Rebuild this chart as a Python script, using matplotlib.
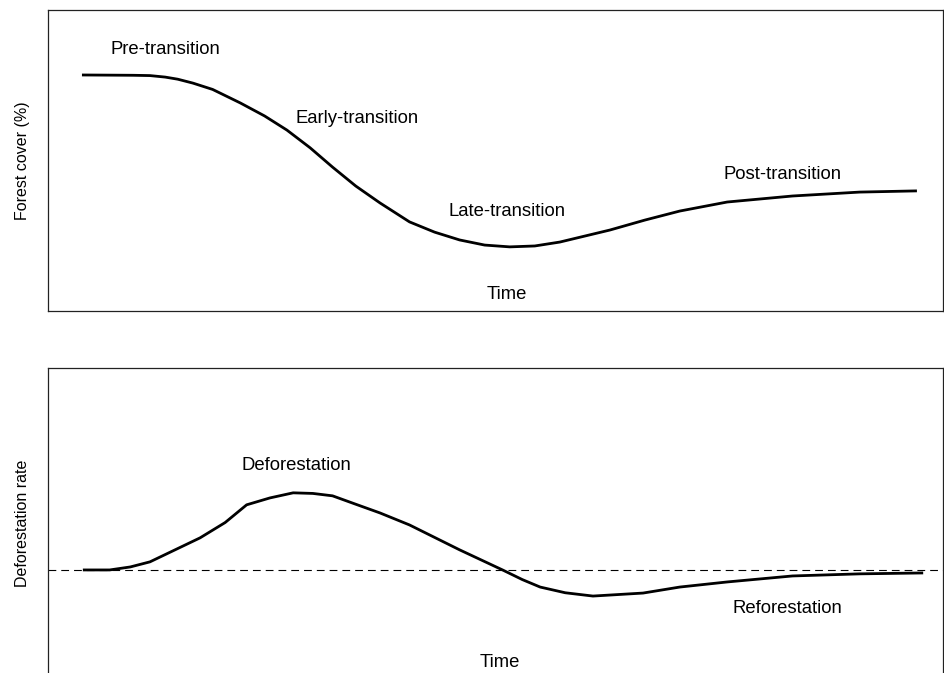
import matplotlib.pyplot as plt

plt.rcParams['font.family'] = ['Liberation Sans', 'DejaVu Sans']

# forest cover curve (time 0-100, cover 0-100)
cover_time = [3.8, 9.5, 11.4, 13.1, 14.5, 16.2, 18.4, 21.5, 24.2, 26.7, 29.3,
              31.8, 34.4, 37.1, 40.4, 43.2, 46.0, 48.8, 51.6, 54.4, 57.2, 60.0,
              62.8, 66.7, 70.6, 75.9, 83.2, 90.7, 97.1]
cover = [78.4, 78.3, 78.2, 77.7, 77.0, 75.7, 73.6, 69.1, 64.8, 60.1, 54.2,
         47.8, 41.5, 35.9, 29.6, 26.2, 23.6, 21.9, 21.3, 21.6, 22.9, 24.9,
         26.9, 30.2, 33.2, 36.2, 38.2, 39.5, 39.9]

# deforestation rate curve
rate_time = [3.9, 6.9, 9.2, 11.4, 14.2, 17.0, 19.8, 22.2, 24.8, 27.4, 29.6,
             31.8, 34.3, 37.1, 40.4, 46.0, 50.8, 53.0, 55.0, 57.8, 60.9, 66.5,
             70.6, 75.9, 83.2, 90.7, 97.8]
rate = [0, 0, 1.0, 2.7, 6.7, 10.7, 15.8, 21.7, 24.0, 25.7, 25.5,
        24.7, 22.0, 19.0, 15.0, 6.7, 0, -3.2, -5.7, -7.6, -8.7, -7.7,
        -5.7, -4.0, -2.0, -1.3, -1.0]

top_labels = [("Pre-transition", 13.1, 86.7), ("Early-transition", 34.5, 64.1),
              ("Late-transition", 51.3, 33.2), ("Post-transition", 82.1, 45.2),
              ("Time", 51.3, 5.6)]
bottom_labels = [("Deforestation", 27.8, 34.7), ("Reforestation", 82.6, -13.0),
                 ("Time", 50.5, -30.7)]

fig = plt.figure(figsize=(9.44, 6.73), dpi=100)
ax1 = fig.add_axes([0.0508, 0.5379, 0.948, 0.4473])
ax2 = fig.add_axes([0.0508, -0.0074, 0.948, 0.4606])

ax1.plot(cover_time, cover, color="black", lw=2.0, solid_capstyle="butt")
ax1.set_xlim(0, 100)
ax1.set_ylim(0, 100)
ax1.set_ylabel("Forest cover (%)", fontsize=11.5, labelpad=13)
for txt, x, y in top_labels:
    ax1.text(x, y, txt, fontsize=13.3, ha="center", va="center")

ax2.axhline(0, color="black", lw=0.8, dashes=(7, 4.5))
ax2.plot(rate_time, rate, color="black", lw=2.0, solid_capstyle="butt")
ax2.set_xlim(0, 100)
ax2.set_ylim(-36, 67.3)
ax2.set_ylabel("Deforestation rate", fontsize=11.5, labelpad=13)
for txt, x, y in bottom_labels:
    ax2.text(x, y, txt, fontsize=13.3, ha="center", va="center")

for ax in (ax1, ax2):
    ax.set_xticks([])
    ax.set_yticks([])
    for s in ax.spines.values():
        s.set_linewidth(0.9)
        s.set_color("#222222")

fig.savefig("out.png", dpi=100)
